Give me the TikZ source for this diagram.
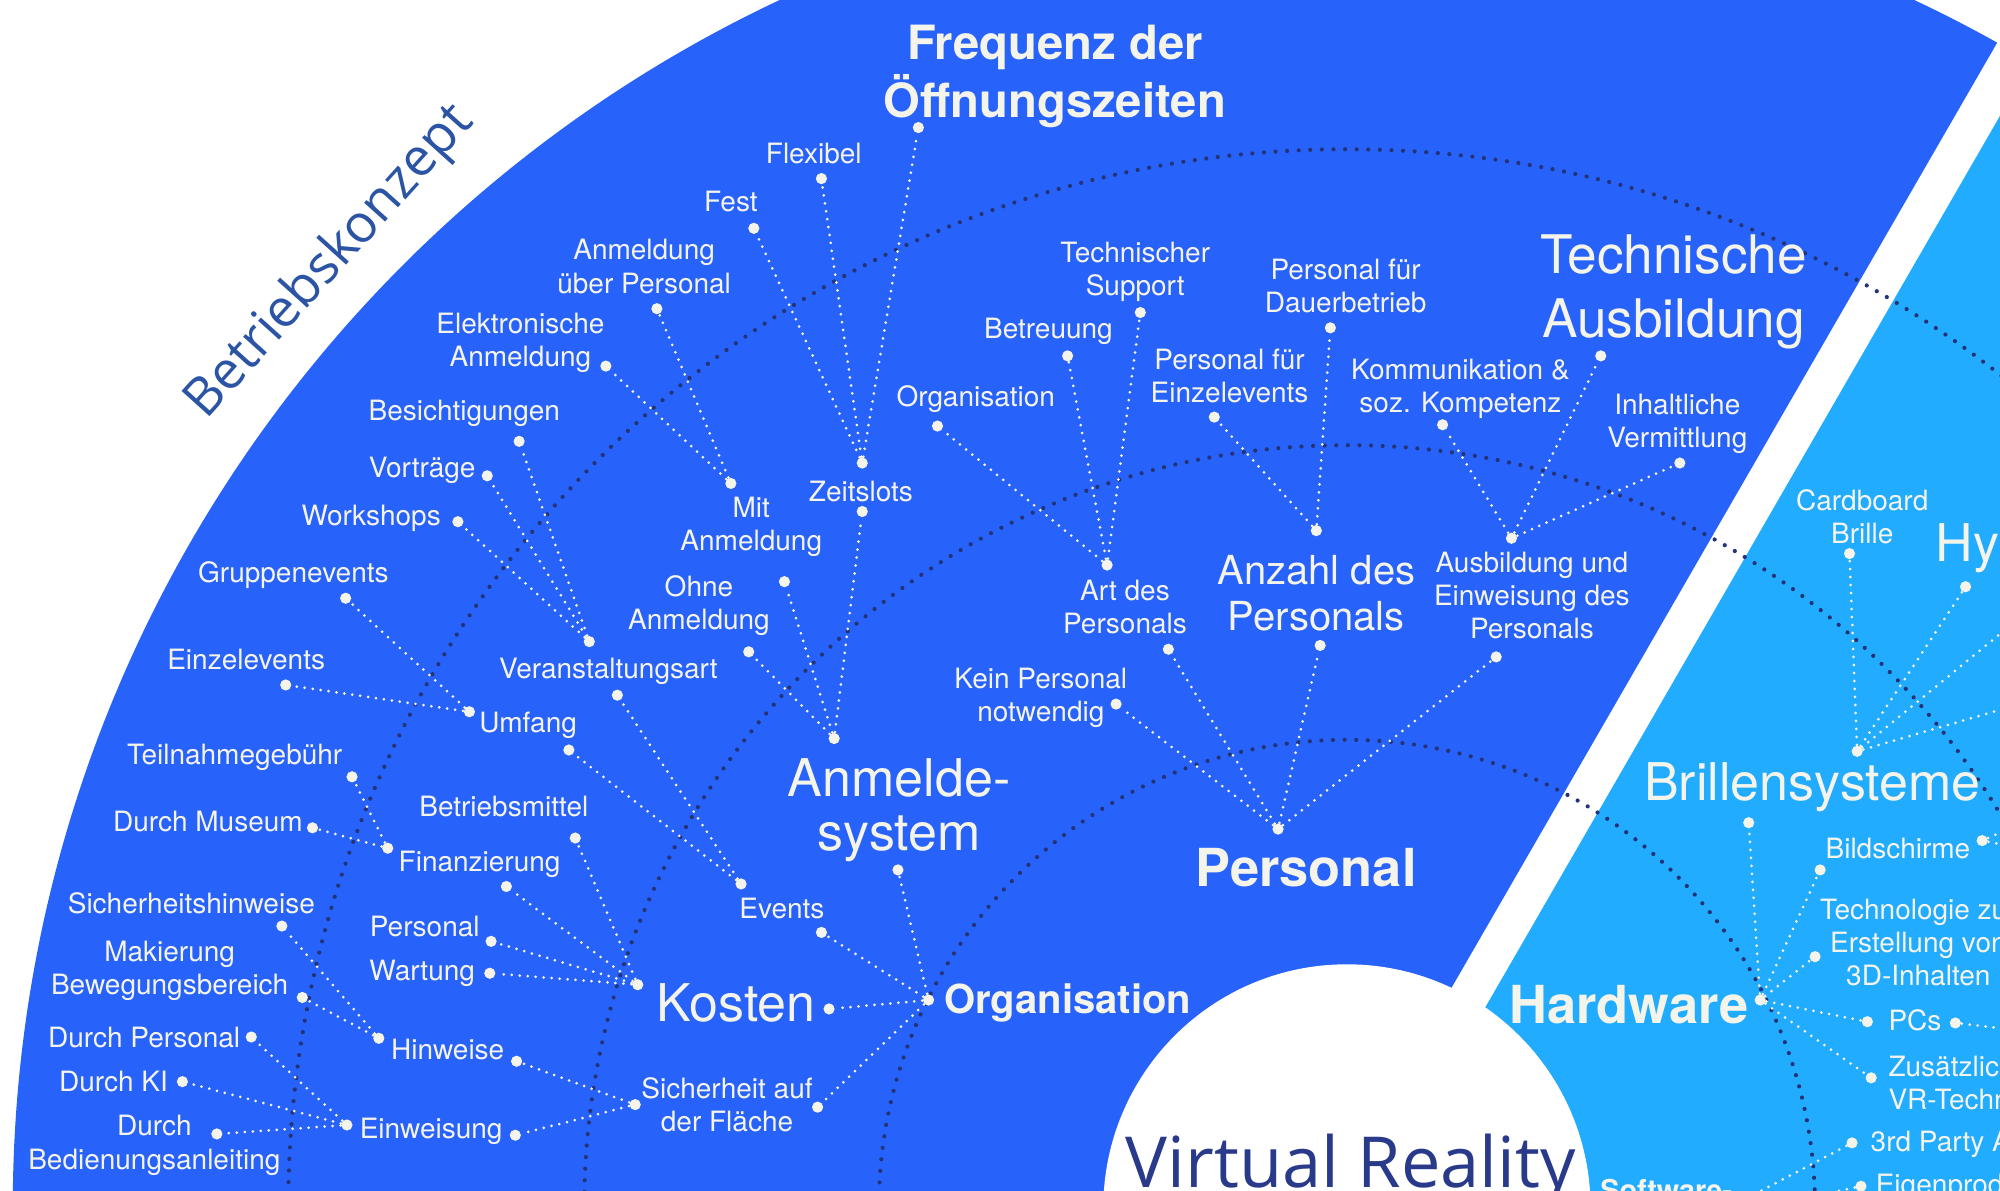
\documentclass[tikz,border=0pt]{standalone}
\usepackage{fontspec}
\setmainfont{TeX Gyre Heros}
\newfontfamily\osans{Open Sans}
\definecolor{dblue}{RGB}{39,98,251}
\definecolor{lblue}{RGB}{33,172,255}
\definecolor{navy}{RGB}{36,50,118}
\definecolor{vrnavy}{RGB}{42,58,138}
\definecolor{bkblue}{RGB}{43,84,165}
\definecolor{txt}{RGB}{244,244,234}
\begin{document}
\begin{tikzpicture}[x=0.3189pt,y=-0.3189pt,
  knot/.style={circle,fill=txt,inner sep=0pt,minimum size=2.8pt},
  conn/.style={draw=txt,line width=0.75pt,line cap=round,dash pattern=on 0pt off 2pt},
  ring/.style={draw=navy,line width=1.05pt,line cap=round,dash pattern=on 0pt off 2.9pt},
  lbl/.style={text=txt,align=center,inner sep=0pt,font=\fontsize{7}{8.3}\selectfont},
  lblm/.style={lbl,font=\fontsize{10}{11.6}\selectfont},
  lblb/.style={lbl,font=\fontsize{13}{13.6}\selectfont},
  hdb/.style={lbl,font=\fontsize{13.1}{14}\selectfont\bfseries},
]
\useasboundingbox (0,0) rectangle (1568,933);
\clip (0,0) rectangle (1568,933);
\coordinate (C) at (1056,947);
% sectors
\begin{scope}
  \clip (1792.75,-359.65) -- (-600,-600) -- (-600,1805) -- (542.75,1805.35) -- cycle;
  \fill[dblue] (C) circle[radius=1046];
\end{scope}
\begin{scope}
  \clip (1819.25,-344.35) -- (2600,-600) -- (2600,1800) -- (569.25,1820.65) -- cycle;
  \fill[lblue] (C) circle[radius=1046];
\end{scope}
\fill[white] (C) circle[radius=191];
% rings
\draw[ring] (C) circle[radius=367];
\draw[ring] (C) circle[radius=598];
\draw[ring] (C) circle[radius=830];

% ---------- dots ----------
\node[knot] (org) at (728,784) {};
\node[knot] (kostR) at (650,791) {};
\node[knot] (kostL) at (500,772) {};
\node[knot] (evR) at (644,731) {};
\node[knot] (evL) at (581,693) {};
\node[knot] (anmB) at (704,682) {};
\node[knot] (anmT) at (654,579) {};
\node[knot] (sichR) at (641,868) {};
\node[knot] (sichL) at (498,866) {};
\node[knot] (betr) at (451,657) {};
\node[knot] (finR) at (397,695) {};
\node[knot] (finL) at (304,665) {};
\node[knot] (persK) at (385,738) {};
\node[knot] (wart) at (384,763) {};
\node[knot] (teil) at (276,609) {};
\node[knot] (mus) at (245,649) {};
\node[knot] (hinR) at (405,832) {};
\node[knot] (hinL) at (297,814) {};
\node[knot] (einR) at (404,890) {};
\node[knot] (einL) at (272,882) {};
\node[knot] (sicherh) at (221,726) {};
\node[knot] (mak) at (237,782) {};
\node[knot] (dpers) at (197,813) {};
\node[knot] (dki) at (143,848) {};
\node[knot] (dbed) at (170,889) {};
\node[knot] (umfR) at (446,588) {};
\node[knot] (umfL) at (368,558) {};
\node[knot] (verB) at (484,545) {};
\node[knot] (verT) at (462,503) {};
\node[knot] (grup) at (271,469) {};
\node[knot] (einz) at (224,537) {};
\node[knot] (bes) at (407,346) {};
\node[knot] (vor) at (382,373) {};
\node[knot] (work) at (359,409) {};
\node[knot] (ohne) at (587,511) {};
\node[knot] (mitB) at (615,456) {};
\node[knot] (mitT) at (573,379) {};
\node[knot] (zeitB) at (676,401) {};
\node[knot] (zeitT) at (676,363) {};
\node[knot] (elek) at (475,287) {};
\node[knot] (uber) at (515,242) {};
\node[knot] (fest) at (591,179) {};
\node[knot] (flex) at (644,140) {};
\node[knot] (freq) at (720,100) {};
\node[knot] (pers) at (1002,650) {};
\node[knot] (kein) at (875,552) {};
\node[knot] (artB) at (916,509) {};
\node[knot] (artT) at (868,443) {};
\node[knot] (anzB) at (1035,506) {};
\node[knot] (anzT) at (1032,416) {};
\node[knot] (ausB) at (1173,515) {};
\node[knot] (ausT) at (1185,422) {};
\node[knot] (orgS) at (735,334) {};
\node[knot] (betreu) at (837,279) {};
\node[knot] (techS) at (894,245) {};
\node[knot] (pEinz) at (952,327) {};
\node[knot] (pDauer) at (1043,257) {};
\node[knot] (komm) at (1131,333) {};
\node[knot] (techA) at (1255,279) {};
\node[knot] (inh) at (1317,363) {};
\node[knot] (hw) at (1380,784) {};
\node[knot] (brB) at (1371,645) {};
\node[knot] (brT) at (1456,589) {};
\node[knot] (card) at (1450,434) {};
\node[knot] (hy) at (1541,460) {};
\node[knot] (bildL) at (1427,682) {};
\node[knot] (bildR) at (1554,659) {};
\node[knot] (techn) at (1423,750) {};
\node[knot] (pcsL) at (1464,801) {};
\node[knot] (pcsR) at (1533,802) {};
\node[knot] (zus) at (1467,845) {};
\node[knot] (third) at (1452,896) {};
\node[knot] (eig) at (1459,930) {};
\coordinate (e1) at (1680,405);
\coordinate (e2) at (1680,524);
\coordinate (e3) at (1620,630);
\coordinate (e4) at (1620,672);
\coordinate (e5) at (1620,812);
\coordinate (sw) at (1340,955);

% ---------- connectors ----------
\foreach \a/\b in {org/kostR, org/evR, org/anmB, org/sichR,
  kostL/betr, kostL/finR, kostL/persK, kostL/wart,
  finL/teil, finL/mus,
  sichL/hinR, sichL/einR,
  hinL/sicherh, hinL/mak,
  einL/dpers, einL/dki, einL/dbed,
  evL/umfR, evL/verB,
  umfL/grup, umfL/einz,
  verT/bes, verT/vor, verT/work,
  anmT/ohne, anmT/mitB, anmT/zeitB,
  mitT/elek, mitT/uber,
  zeitT/fest, zeitT/flex, zeitT/freq,
  pers/kein, pers/artB, pers/anzB, pers/ausB,
  artT/orgS, artT/betreu, artT/techS,
  anzT/pEinz, anzT/pDauer,
  ausT/komm, ausT/techA, ausT/inh,
  hw/brB, hw/bildL, hw/techn, hw/pcsL, hw/zus,
  brT/card, brT/hy, brT/e1, brT/e2,
  bildR/e3, bildR/e4, pcsR/e5, third/sw, eig/sw}
  \draw[conn] (\a) -- (\b);

% ---------- labels ----------
\node[lbl,font=\fontsize{11.8}{13.1}\selectfont\bfseries] (lFreq) at (827,60) {Frequenz der\\Öffnungszeiten};
\node[lbl] (lFlex) at (638,120) {Flexibel};
\node[lbl] (lFest) at (573,158) {Fest};
\node[lbl] (lUber) at (505,209) {Anmeldung\\über Personal};
\node[lbl] (lElek) at (408,269) {Elektronische\\Anmeldung};
\node[lbl] (lBes) at (364,324) {Besichtigungen};
\node[lbl] (lVor) at (331,369) {Vorträge};
\node[lbl] (lWork) at (291,406) {Workshops};
\node[lbl] (lGrup) at (230,451) {Gruppenevents};
\node[lbl] (lEinz) at (193,517) {Einzelevents};
\node[lbl] (lUmf) at (414,569) {Umfang};
\node[lbl] (lVer) at (477,526) {Veranstaltungsart};
\node[lbl] (lTeil) at (184,594) {Teilnahmegebühr};
\node[lbl] (lMus) at (163,644) {Durch Museum};
\node[lbl] (lBetr) at (395,632) {Betriebsmittel};
\node[lbl] (lFin) at (376,678) {Finanzierung};
\node[lbl] (lSich) at (150,708) {Sicherheitshinweise};
\node[lbl] (lPersK) at (333,726) {Personal};
\node[lbl] (lMak) at (133,761) {Makierung\\Bewegungsbereich};
\node[lbl] (lWart) at (331,763) {Wartung};
\node[lbl] (lDP) at (113,813) {Durch Personal};
\node[lbl] (lHin) at (351,823) {Hinweise};
\node[lbl] (lKI) at (89,848) {Durch KI};
\node[lbl] (lEinw) at (338,887) {Einweisung};
\node[lbl] (lDB) at (121,898) {Durch\\Bedienungsanleiting};
\node[lblb] (lKost) at (577,786) {Kosten};
\node[lbl] (lSaf) at (570,866) {Sicherheit auf\\der Fläche};
\node[lbl] (lEv) at (613,712) {Events};
\node[lbl,font=\fontsize{10}{11.6}\selectfont\bfseries] (lOrg) at (837,786) {Organisation};
\node[lblb] (lAnm) at (705,635) {Anmelde-\\system};
\node[lbl] (lOhne) at (548,475) {Ohne\\Anmeldung};
\node[lbl] (lMit) at (589,413) {Mit\\Anmeldung};
\node[lbl] (lZeit) at (675,385) {Zeitslots};
\node[lbl] (lOrgS) at (765,313) {Organisation};
\node[lbl] (lBetreu) at (822,260) {Betreuung};
\node[lbl] (lTS) at (890,213) {Technischer\\Support};
\node[lbl] (lPD) at (1055,224) {Personal für\\Dauerbetrieb};
\node[lbl] (lPE) at (964,295) {Personal für\\Einzelevents};
\node[lbl] (lKom) at (1145,305) {Kommunikation \&\\soz. Kompetenz};
\node[lbl,font=\fontsize{13.3}{16}\selectfont] (lTA) at (1312,229) {Technische\\Ausbildung};
\node[lbl] (lInh) at (1315,332) {Inhaltliche\\Vermittlung};
\node[lbl] (lArt) at (882,476) {Art des\\Personals};
\node[lblm] (lAnz) at (1032,465) {Anzahl des\\Personals};
\node[lbl] (lAus) at (1201,467) {Ausbildung und\\Einweisung des\\Personals};
\node[lbl] (lKein) at (816,547) {Kein Personal\\notwendig};
\node[hdb] (lPers) at (1024,680) {Personal};
\node[hdb] (lHW) at (1277,788) {Hardware};
\node[lblb] (lBr) at (1421,617) {Brillensysteme};
\node[lbl] (lCard) at (1460,405) {Cardboard\\Brille};
\node[lblb,anchor=west] (lHy) at (1517,430) {Hy};
\node[lbl] (lBild) at (1488,665) {Bildschirme};
\node[lbl] (lTech) at (1504,739) {Technologie zur\\Erstellung von\\3D-Inhalten};
\node[lbl,anchor=west] (lPCs) at (1480,800) {PCs};
\node[lbl,anchor=west,align=left] (lZus) at (1480,849) {Zusätzliche\\VR-Technik};
\node[lbl,anchor=west] (l3rd) at (1466,897) {3rd Party Apps};
\node[lbl,anchor=west] (lEig) at (1470,931) {Eigenproduktion};
\node[lbl,anchor=base west,font=\fontsize{7.2}{8.3}\selectfont\bfseries] (lSW) at (1254,941) {Software-};
\node[text=bkblue,inner sep=0pt,rotate=48,font=\osans\fontsize{13.2}{15}\selectfont] (lBK) at (259,206) {Betriebskonzept};
\node[text=vrnavy,inner sep=0pt,anchor=base,font=\osans\fontsize{17.6}{20}\selectfont] (lVR) at (1059,931) {Virtual Reality};
\end{tikzpicture}
\end{document}
